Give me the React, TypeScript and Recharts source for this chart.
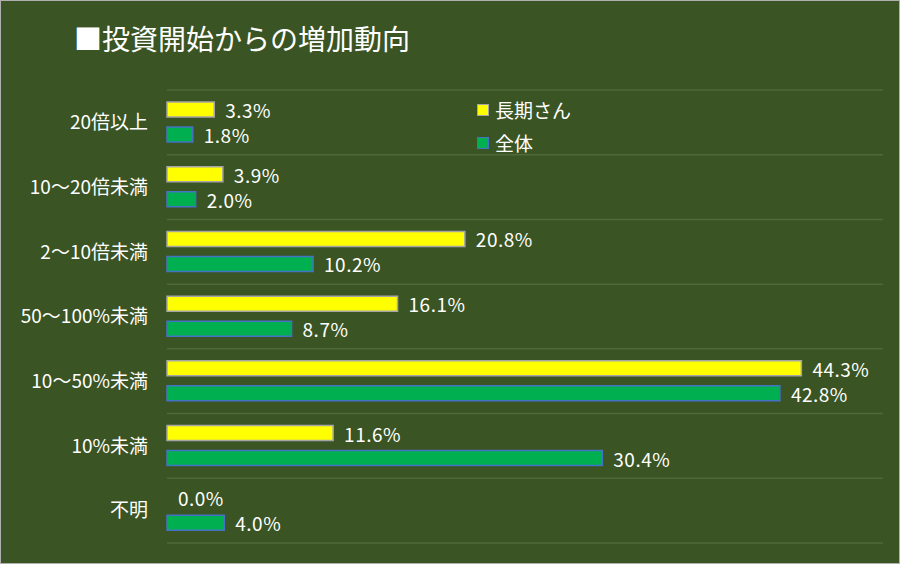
import React from 'react';
import { BarChart, Bar, XAxis, YAxis, CartesianGrid, Cell, LabelList } from 'recharts';

const categories = ['20倍以上', '10～20倍未満', '2～10倍未満', '50～100%未満', '10～50%未満', '10%未満', '不明'];
const longTerm = [3.3, 3.9, 20.8, 16.1, 44.3, 11.6, 0.0];
const overall = [1.8, 2.0, 10.2, 8.7, 42.8, 30.4, 4.0];
const seriesNames = ['長期さん', '全体'];
const title = '■投資開始からの増加動向';

const data = categories.map((c, i) => ({ name: c, longTerm: longTerm[i], overall: overall[i] }));

const FONT = '"Noto Sans CJK JP", "Noto Sans", sans-serif';
const BG = '#3a5423';
const GRID = '#4f6a38';

const fmt = (v: any) => `${Number(v).toFixed(1)}%`;

const ValueLabel = (props: any) => {
  const { x, y, width, height, value } = props;
  const w = Number(value) === 0 ? 0 : Number(width || 0);
  return (
    <text x={Number(x) + w + 11} y={Number(y) + Number(height) / 2} fill="#ffffff" fontSize={19} fontFamily={FONT} letterSpacing={0.5} dominantBaseline="central">
      {fmt(value)}
    </text>
  );
};

const minSize = (v: any) => (Number(v) === 0 ? 0.01 : 0);

const legendItems = [
  { name: seriesNames[0], fill: '#ffff00', stroke: '#a6a6a6' },
  { name: seriesNames[1], fill: '#00b050', stroke: '#4472c4' },
];

export default function App() {
  const n = categories.length;
  return (
    <div style={{ position: 'absolute', left: 0, top: 0, width: 900, height: 564, background: BG, boxSizing: 'border-box', border: '1px solid #b0b0b0', overflow: 'hidden' }}>
      <div style={{ position: 'absolute', left: 73, top: 17, color: '#ffffff', fontSize: 28, fontFamily: FONT, lineHeight: '40px', whiteSpace: 'nowrap' }}>{title}</div>
      <div style={{ position: 'absolute', left: -1, top: -1 }}>
        <BarChart
          width={900}
          height={564}
          data={data}
          layout="vertical"
          margin={{ top: 90, right: 17, bottom: 21, left: 0 }}
          barSize={15}
          barGap={10}
        >
          <CartesianGrid
            vertical={false}
            stroke={GRID}
            strokeWidth={1.5}
            horizontalCoordinatesGenerator={({ offset }: any) => {
              const arr: number[] = [];
              for (let i = 0; i <= n; i++) arr.push(offset.top + (offset.height * i) / n);
              return arr;
            }}
          />
          <XAxis type="number" domain={[0, 50]} hide />
          <YAxis
            type="category"
            dataKey="name"
            width={167}
            axisLine={false}
            tickLine={false}
            tickSize={0}
            tickMargin={19}
            tick={{ fill: '#ffffff', fontSize: 19, fontFamily: FONT }}
          />
          <Bar dataKey="longTerm" name={seriesNames[0]} fill="#ffff00" stroke="#a6a6a6" strokeWidth={1.5} minPointSize={minSize} isAnimationActive={false}>
            {longTerm.map((v, i) => (
              <Cell key={i} fill={v === 0 ? 'none' : '#ffff00'} stroke={v === 0 ? 'none' : '#a6a6a6'} />
            ))}
            <LabelList dataKey="longTerm" content={<ValueLabel />} />
          </Bar>
          <Bar dataKey="overall" name={seriesNames[1]} fill="#00b050" stroke="#4472c4" strokeWidth={1.5} minPointSize={minSize} isAnimationActive={false}>
            {overall.map((v, i) => (
              <Cell key={i} fill={v === 0 ? 'none' : '#00b050'} stroke={v === 0 ? 'none' : '#4472c4'} />
            ))}
            <LabelList dataKey="overall" content={<ValueLabel />} />
          </Bar>
        </BarChart>
      </div>
      <div style={{ position: 'absolute', left: 476, top: 92, fontFamily: FONT }}>
        {legendItems.map((it) => (
          <div key={it.name} style={{ display: 'flex', alignItems: 'center', height: 33 }}>
            <div style={{ width: 10, height: 10, background: it.fill, border: `1px solid ${it.stroke}`, marginRight: 6 }} />
            <span style={{ color: '#ffffff', fontSize: 19 }}>{it.name}</span>
          </div>
        ))}
      </div>
    </div>
  );
}
